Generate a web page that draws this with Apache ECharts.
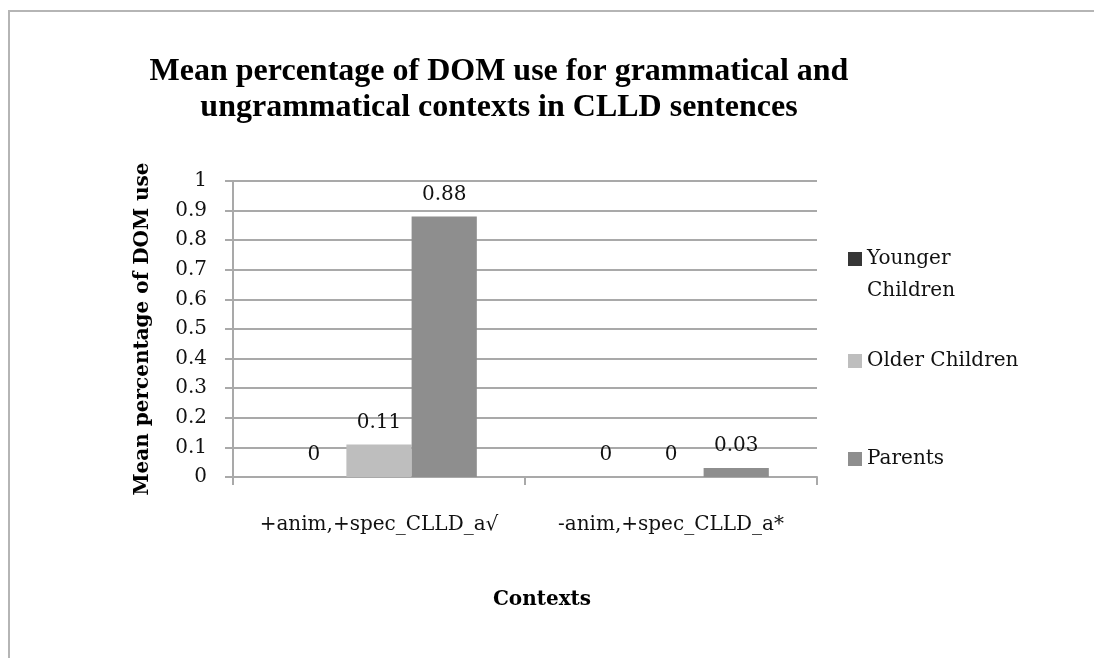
<!DOCTYPE html>
<html>
<head>
<meta charset="utf-8">
<script src="https://cdn.jsdelivr.net/npm/echarts@6/dist/echarts.min.js"></script>
<style>
  html, body { margin: 0; padding: 0; background: #ffffff; }
  #chart { width: 1094px; height: 658px; }
</style>
</head>
<body>
<div id="chart"></div>
<script>
// Contexts on the x axis
const categories = ['+anim,+spec_CLLD_a\u221A', '-anim,+spec_CLLD_a*'];
// Mean percentage of DOM use per group
const youngerChildren = [0, 0];
const olderChildren = [0.11, 0];
const parents = [0.88, 0.03];
// Value axis ticks
const yTicks = [0, 0.1, 0.2, 0.3, 0.4, 0.5, 0.6, 0.7, 0.8, 0.9, 1];
const seriesNames = ['Younger Children', 'Older Children', 'Parents'];

const serif = 'DejaVu Serif';
const gridColor = '#a9a9a9';

function barSeries(name, data, color) {
  return {
    name: name,
    type: 'bar',
    data: data,
    barGap: '0%',
    barCategoryGap: '33%',
    itemStyle: { color: color },
    label: {
      show: true,
      position: 'top',
      distance: 12,
      fontFamily: serif,
      fontSize: 20,
      color: '#111',
      formatter: p => String(p.value)
    }
  };
}

// One legend block per series so each entry can sit at its own height
function legendAt(name, top, label, lineHeight) {
  return {
    data: [name],
    left: 848,
    top: top,
    padding: 0,
    orient: 'vertical',
    icon: 'rect',
    itemWidth: 14,
    itemHeight: 14,
    itemGap: 0,
    selectedMode: false,
    formatter: () => label,
    textStyle: {
      fontFamily: serif,
      fontSize: 20,
      color: '#111',
      lineHeight: lineHeight
    }
  };
}

const chart = echarts.init(document.getElementById('chart'));
chart.setOption({
  animation: false,
  backgroundColor: '#ffffff',
  title: [
    {
      text: 'Mean percentage of DOM use for grammatical and\nungrammatical contexts in CLLD sentences',
      left: 499,
      top: 54,
      padding: 0,
      textAlign: 'center',
      textStyle: {
        fontFamily: 'Liberation Serif',
        fontWeight: 'bold',
        fontSize: 32,
        lineHeight: 36,
        color: '#000'
      }
    },
    {
      text: 'Contexts',
      left: 542,
      top: 588,
      padding: 0,
      textAlign: 'center',
      textStyle: {
        fontFamily: serif,
        fontWeight: 'bold',
        fontSize: 20,
        lineHeight: 24,
        color: '#000'
      }
    }
  ],
  legend: [
    // leading blank line keeps the swatch level with the first word
    legendAt(seriesNames[0], 211, '\u00A0\nYounger\nChildren', 32),
    legendAt(seriesNames[1], 351, 'Older Children', 14),
    legendAt(seriesNames[2], 449, 'Parents', 14)
  ],
  grid: { left: 233, right: 277, top: 181, bottom: 181 },
  xAxis: {
    type: 'category',
    data: categories,
    axisLine: { show: true, lineStyle: { color: gridColor, width: 2 } },
    axisTick: { show: true, length: 8, lineStyle: { color: gridColor, width: 2 } },
    axisLabel: { interval: 0, margin: 38, fontFamily: serif, fontSize: 20, color: '#111' },
    splitLine: { show: false }
  },
  yAxis: {
    type: 'value',
    min: yTicks[0],
    max: yTicks[yTicks.length - 1],
    interval: 0.1,
    name: 'Mean percentage of DOM use',
    nameLocation: 'middle',
    nameGap: 80,
    nameTextStyle: { fontFamily: serif, fontWeight: 'bold', fontSize: 20, color: '#000' },
    axisLine: { show: true, lineStyle: { color: gridColor, width: 2 } },
    axisTick: { show: true, length: 8, lineStyle: { color: gridColor, width: 2 } },
    axisLabel: {
      margin: 26,
      fontFamily: serif,
      fontSize: 20,
      color: '#111',
      formatter: v => String(+v.toFixed(1))
    },
    splitLine: { show: true, lineStyle: { color: gridColor, width: 2 } }
  },
  graphic: [
    {
      type: 'rect',
      shape: { x: 9, y: 11, width: 1300, height: 900 },
      style: { fill: 'none', stroke: '#b5b5b5', lineWidth: 2 },
      silent: true,
      z: -1
    }
  ],
  series: [
    barSeries(seriesNames[0], youngerChildren, '#363636'),
    barSeries(seriesNames[1], olderChildren, '#bebebe'),
    barSeries(seriesNames[2], parents, '#8e8e8e')
  ]
});
</script>
</body>
</html>
